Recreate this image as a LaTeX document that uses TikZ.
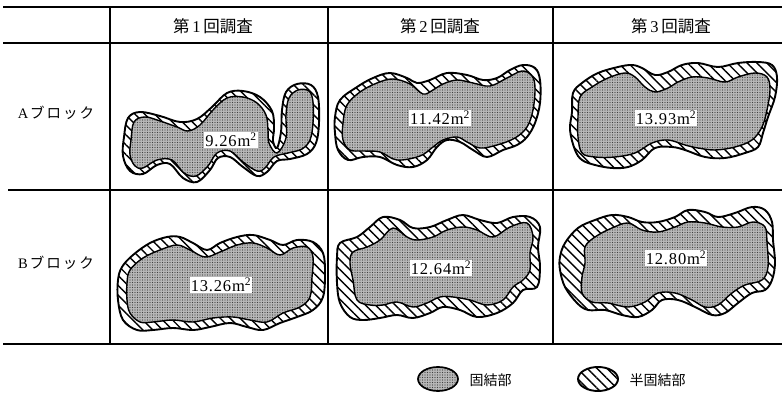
\documentclass[tikz,border=0pt]{standalone}
\usepackage{fontspec}
\setmainfont{Liberation Serif}
\newfontfamily\cjk{Noto Sans CJK JP}
\newfontfamily\numfont[LetterSpace=5]{Liberation Serif}
\usetikzlibrary{patterns.meta}
\tikzset{
  rulethick/.style={line width=2.2pt},
  rulethin/.style={line width=1.1pt},
  outerblob/.style={draw=black, line width=1.9pt, pattern={Lines[angle=-45,distance=7pt,line width=1.4pt]}},
  innerblob/.style={draw=black, line width=1.4pt, preaction={fill=black!28}, pattern={Dots[distance=2.5pt,radius=0.6pt]}, pattern color=black!75},
  arealabel/.style={fill=white, inner sep=1.2pt, font=\numfont\fontsize{16.5}{16.5}\selectfont},
  headtext/.style={font=\fontsize{16.5}{16.5}\selectfont},
  rowtext/.style={font=\fontsize{14.5}{14.5}\selectfont},
  legtext/.style={font=\fontsize{14}{14}\selectfont, anchor=west},
}
\begin{document}
\begin{tikzpicture}[x=1pt,y=-1pt]
\useasboundingbox (0,0) rectangle (782,395);
% table rules
\draw[rulethick] (3,7) -- (782,7);
\draw[rulethin] (3,43) -- (782,43);
\draw[rulethin] (8,190) -- (782,190);
\draw[rulethick] (3,344) -- (782,344);
\draw[rulethin] (110,7) -- (110,344);
\draw[rulethin] (328,7) -- (328,344);
\draw[rulethin] (553,7) -- (553,344);
% headers
\node[headtext] (h1) at (213,26) {\cjk 第\,{\rmfamily 1}\,回調査};
\node[headtext] (h2) at (440,26) {\cjk 第\,{\rmfamily 2}\,回調査};
\node[headtext] (h3) at (671,26) {\cjk 第\,{\rmfamily 3}\,回調査};
\node[rowtext] (ra) at (56,113) {A\hspace{2pt}{\cjk ブ\hspace{2pt}ロ\hspace{2pt}ッ\hspace{2pt}ク}};
\node[rowtext] (rb) at (56,263) {B\hspace{2pt}{\cjk ブ\hspace{2pt}ロ\hspace{2pt}ッ\hspace{2pt}ク}};
% A1
\draw[outerblob] plot[smooth cycle, tension=0.6] coordinates {(124,137) (128,118) (140,112) (160,116) (180,122) (197,119) (212,107) (227,93) (243,91) (260,97) (272,111) (274,128) (273,141) (277,148) (281,132) (282,110) (286,92) (297,84) (311,85) (318,97) (319,123) (316,143) (307,154) (290,159) (277,161) (267,172) (257,176) (243,167) (230,157) (218,158) (210,170) (197,182) (183,178) (170,164) (157,165) (143,174) (130,171) (123,156)};
\draw[innerblob] plot[smooth cycle, tension=0.6] coordinates {(131,140) (134,122) (145,117) (160,121) (177,127) (188,131) (200,125) (213,110) (227,98) (243,97) (257,103) (266,115) (268,130) (269,143) (277,153) (286,138) (286,115) (289,98) (298,90) (309,91) (313,102) (313,123) (310,140) (302,149) (288,153) (274,157) (265,168) (257,171) (243,162) (230,151) (217,153) (208,166) (196,176) (184,173) (172,160) (157,160) (143,168) (135,166) (130,155)};
\node[arealabel] (la1) at (231,140) {9.26m\textsuperscript{2}};
% A2
\draw[outerblob] plot[smooth cycle, tension=0.6] coordinates {(335,117) (340,100) (357,87) (373,78) (390,73) (407,78) (417,83) (430,80) (447,73) (467,75) (483,80) (497,78) (510,70) (523,65) (535,68) (540,80) (540,103) (535,123) (527,137) (517,145) (503,150) (487,157) (473,150) (460,142) (447,140) (437,147) (427,160) (413,167) (397,165) (380,157) (363,157) (348,160) (338,150) (335,133)};
\draw[innerblob] plot[smooth cycle, tension=0.6] coordinates {(343,123) (347,105) (360,92) (377,83) (393,79) (410,84) (423,94) (433,90) (443,84) (457,80) (473,83) (490,86) (507,78) (522,71) (532,76) (535,88) (533,110) (527,127) (515,138) (497,145) (480,148) (467,142) (457,137) (443,140) (433,147) (420,156) (397,160) (380,152) (363,151) (350,150) (343,140)};
\node[arealabel] (la2) at (440,118) {11.42m\textsuperscript{2}};
% A3
\draw[outerblob] plot[smooth cycle, tension=0.6] coordinates {(572,112) (573,93) (582,83) (598,73) (618,67) (632,65) (642,68) (655,75) (668,72) (682,65) (698,63) (718,67) (738,63) (758,62) (772,65) (777,77) (775,97) (768,117) (763,133) (758,147) (745,153) (725,158) (705,157) (685,150) (672,147) (655,148) (642,160) (628,167) (612,168) (595,165) (582,160) (575,150) (570,130)};
\draw[innerblob] plot[smooth cycle, tension=0.6] coordinates {(578,117) (580,97) (592,87) (608,78) (625,73) (635,77) (645,87) (655,92) (668,88) (678,82) (692,77) (708,78) (725,82) (738,77) (755,73) (767,77) (770,90) (767,110) (762,127) (752,140) (735,147) (715,150) (698,148) (685,145) (668,140) (652,143) (635,153) (615,157) (595,157) (582,153) (578,137)};
\node[arealabel] (la3) at (666,118) {13.93m\textsuperscript{2}};
% B1
\draw[outerblob] plot[smooth cycle, tension=0.6] coordinates {(118,280) (122,267) (133,255) (150,243) (167,237) (180,237) (193,243) (207,250) (220,243) (237,237) (253,235) (270,240) (283,245) (297,240) (313,242) (323,253) (325,273) (323,297) (313,310) (297,317) (280,323) (263,330) (247,327) (230,323) (210,327) (193,330) (173,328) (153,330) (137,330) (123,320) (118,300)};
\draw[innerblob] plot[smooth cycle, tension=0.6] coordinates {(127,283) (130,270) (143,258) (160,250) (177,245) (190,250) (205,257) (220,252) (237,245) (253,243) (267,248) (280,255) (293,248) (307,247) (313,257) (312,277) (310,297) (300,307) (283,313) (267,322) (250,320) (233,317) (213,318) (193,322) (173,320) (153,322) (140,322) (130,313) (127,300)};
\node[arealabel] (lb1) at (221,285) {13.26m\textsuperscript{2}};
% B2
\draw[outerblob] plot[smooth cycle, tension=0.6] coordinates {(337,257) (340,243) (357,237) (370,227) (383,217) (400,220) (413,228) (430,227) (447,220) (463,215) (480,220) (497,223) (513,217) (530,217) (540,227) (538,247) (540,267) (537,287) (523,290) (513,303) (497,313) (477,317) (460,310) (443,307) (430,313) (413,318) (397,315) (380,318) (363,320) (350,317) (340,303) (337,283)};
\draw[innerblob] plot[smooth cycle, tension=0.6] coordinates {(350,263) (353,252) (367,247) (380,240) (393,228) (407,237) (417,240) (433,237) (447,230) (463,227) (477,230) (493,237) (510,227) (527,223) (533,237) (530,253) (530,270) (523,280) (513,287) (503,300) (487,305) (470,300) (453,297) (440,297) (427,303) (413,307) (397,302) (383,305) (370,305) (357,300) (353,280)};
\node[arealabel] (lb2) at (441,268) {12.64m\textsuperscript{2}};
% B3
\draw[outerblob] plot[smooth cycle, tension=0.6] coordinates {(560,257) (565,243) (578,228) (595,220) (612,215) (628,217) (642,222) (658,222) (675,217) (688,210) (705,212) (718,217) (735,213) (752,207) (765,210) (772,222) (773,240) (775,263) (772,280) (765,290) (752,293) (738,303) (725,313) (712,315) (695,307) (678,300) (662,300) (652,310) (638,317) (622,315) (605,310) (588,310) (577,303) (565,287) (560,270)};
\draw[innerblob] plot[smooth cycle, tension=0.6] coordinates {(585,263) (585,247) (595,237) (612,228) (628,223) (642,230) (658,232) (675,227) (688,222) (705,223) (722,227) (738,227) (753,222) (765,227) (767,243) (768,267) (762,280) (745,285) (732,293) (718,305) (705,307) (692,300) (675,293) (658,293) (645,302) (628,307) (608,303) (592,302) (582,293) (582,277)};
\node[arealabel] (lb3) at (676,258) {12.80m\textsuperscript{2}};
% legend
\draw[innerblob, line width=1.7pt] (438,379) ellipse [x radius=20, y radius=12];
\node[legtext] (l1) at (466,380) {\cjk 固結部};
\draw[outerblob] (598,379) ellipse [x radius=20, y radius=12];
\node[legtext] (l2) at (626,380) {\cjk 半固結部};
\end{tikzpicture}
\end{document}
